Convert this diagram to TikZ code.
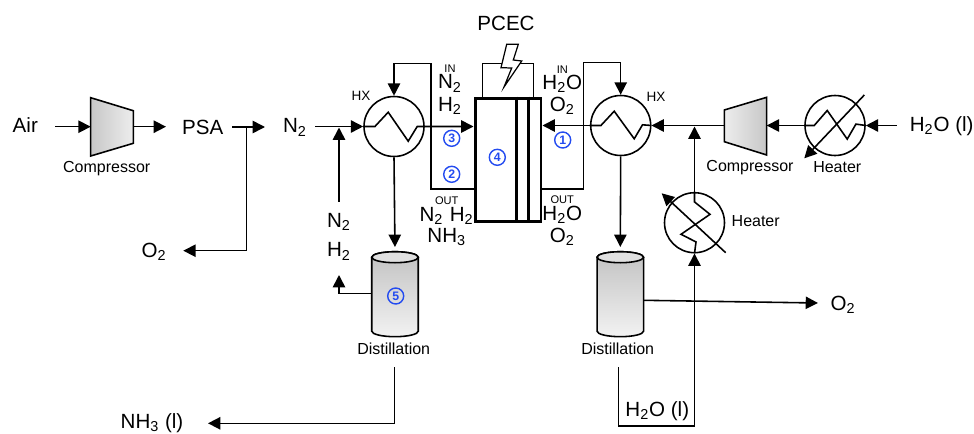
\documentclass[tikz,border=0pt]{standalone}
\usepackage{fontspec}
\setmainfont{Liberation Sans}
\usetikzlibrary{arrows.meta}

\definecolor{tagblue}{RGB}{35,75,240}

\newcommand{\sub}[1]{\textsubscript{#1}}
\newcommand{\tankbody}[1]{%
	\draw[pipe, top color = black!24, bottom color = black!5] ([yshift = -0.11cm]#1.north west) -- ([yshift = 0.11cm]#1.south west) arc (180:360:0.465cm and 0.11cm) -- ([yshift = -0.11cm]#1.north east) arc (0:180:0.465cm and 0.11cm) -- cycle;
	\draw[pipe, fill = black!12] ([yshift = -0.11cm]#1.north) ellipse [x radius = 0.465cm, y radius = 0.11cm];
}

\tikzset{
	flow/.style = {line width = 0.9pt, -{Triangle[length = 7pt, width = 7pt]}},
	pipe/.style = {line width = 0.9pt},
	big/.style = {font = \fontsize{11.7}{14}\selectfont, inner sep = 0pt},
	small/.style = {font = \fontsize{9.1}{11}\selectfont, inner sep = 0pt},
	tiny/.style = {font = \fontsize{6.3}{8}\selectfont, inner sep = 0pt},
	hxname/.style = {font = \fontsize{7.7}{9}\selectfont, inner sep = 0pt},
	hxbox/.style = {draw, circle, line width = 0.9pt, minimum size = 1.2cm, inner sep = 0pt},
	tankbox/.style = {minimum width = 0.93cm, minimum height = 1.7cm, inner sep = 0pt, outer sep = 0pt},
	tagnum/.style = {draw = tagblue, text = tagblue, circle, line width = 0.8pt, minimum size = 0.32cm, inner sep = 0pt, font = \fontsize{7}{8}\selectfont\bfseries}
}

\begin{document}
\begin{tikzpicture}[x = 0.02cm, y = -0.02cm]
	\useasboundingbox (0, 0) rectangle (974, 433);

	%	equipment
	\draw[pipe, left color = black!22, right color = black!7] (90.7, 97.7) -- (133.3, 110.7) -- (133.3, 143.3) -- (90.7, 156) -- cycle;
	\draw[pipe, left color = black!7, right color = black!22] (724.3, 110) -- (766.7, 97.3) -- (766.7, 155) -- (724.3, 141.7) -- cycle;
	\coordinate (compain) at (90.7, 126.7);
	\coordinate (compaout) at (133.3, 126.7);
	\coordinate (compbin) at (766.7, 125.5);
	\coordinate (compbout) at (724.3, 125.5);
	\node[hxbox] (hxa) at (394, 126.5) {};
	\node[hxbox] (hxb) at (620.7, 125.5) {};
	\node[hxbox] (heata) at (835, 125.5) {};
	\node[hxbox] (heatb) at (694.5, 222.7) {};
	\node[tankbox] (dista) at (395, 294.2) {};
	\node[tankbox] (distb) at (620.3, 294.2) {};
	\tankbody{dista}
	\tankbody{distb}
	\node[draw, line width = 1.7pt, minimum width = 1.32cm, minimum height = 2.48cm, inner sep = 0pt] (cell) at (508, 160) {};
	\draw[line width = 1.7pt] ([xshift = 0.86cm]cell.north west) -- ([xshift = 0.86cm]cell.south west);
	\draw[line width = 1.7pt] ([xshift = 1.1cm]cell.north west) -- ([xshift = 1.1cm]cell.south west);

	%	power
	\draw[line width = 0.7pt] ([xshift = 0.18cm]cell.north west) -- ++(0, -33) -- ++(51, 0) -- ++(0, 33);
	\draw[line width = 0.7pt, fill = white] (506.7, 44.3) -- (518.3, 44.3) -- (513.3, 60) -- (521.7, 61) -- (504, 87) -- (511.7, 68) -- (501, 67.7) -- cycle;

	%	labels
	\node[big] (air) at (25.3, 125) {Air};
	\node[big] (psa) at (202.7, 127) {PSA};
	\node[big] (nin) at (295, 127.5) {N\sub{2}};
	\node[big] (oa) at (154, 252) {O\sub{2}};
	\node[big] (recn) at (339, 222) {N\sub{2}};
	\node[big] (rech) at (339, 251.5) {H\sub{2}};
	\node[big] (pcec) at (506, 23.5) {PCEC};
	\node[big] (inan) at (450, 83.5) {N\sub{2}};
	\node[big] (inah) at (450, 106) {H\sub{2}};
	\node[big] (inbw) at (562.3, 84) {H\sub{2}O};
	\node[big] (inbo) at (562.3, 106) {O\sub{2}};
	\node[big] (outa) at (431.5, 216) {N\sub{2}};
	\node[big] (outb) at (461.7, 216) {H\sub{2}};
	\node[big] (outc) at (446.7, 237) {NH\sub{3}};
	\node[big] (outw) at (562.3, 214.5) {H\sub{2}O};
	\node[big] (outo) at (562.3, 236.5) {O\sub{2}};
	\node[big] (wat) at (941.7, 126) {H\sub{2}O (l)};
	\node[big] (watb) at (657.3, 411) {H\sub{2}O (l)};
	\node[big] (amm) at (152, 423) {NH\sub{3} (l)};
	\node[big] (ob) at (843, 305) {O\sub{2}};
	\node[tiny] (tina) at (450, 69) {IN};
	\node[tiny] (tinb) at (562.3, 70) {IN};
	\node[tiny] (touta) at (446.7, 200.7) {OUT};
	\node[tiny] (toutb) at (562.3, 200) {OUT};
	\node[hxname] (hxna) at (361, 96) {HX};
	\node[hxname] (hxnb) at (656, 96.7) {HX};
	\node[small] (compna) at (106.7, 168.3) {Compressor};
	\node[small] (compnb) at (750, 167.3) {Compressor};
	\node[small] (heatna) at (837.3, 166.7) {Heater};
	\node[small] (heatnb) at (755.7, 220.7) {Heater};
	\node[small] (distna) at (393.7, 348.3) {Distillation};
	\node[small] (distnb) at (617.7, 348.3) {Distillation};

	%	numbers
	\node[tagnum] (taga) at (562.7, 140) {1};
	\node[tagnum] (tagb) at (451.7, 174.3) {2};
	\node[tagnum] (tagc) at (451.7, 138.3) {3};
	\node[tagnum] (tagd) at (497.3, 157.3) {4};
	\node[tagnum] (tage) at (395.7, 296) {5};

	%	free ends
	\coordinate (airend) at (55, 126.7);
	\coordinate (psaout) at (232.3, 127);
	\coordinate (psatip) at (265, 127);
	\coordinate (psabr) at (246.7, 127);
	\coordinate (oatip) at (183.3, 250.7);
	\coordinate (ninend) at (315, 126.5);
	\coordinate (recend) at (339, 201.5);
	\coordinate (recjoin) at (339, 127.5);
	\coordinate (comptip) at (166, 126.7);
	\coordinate (loopa) at (431, 63.3);
	\coordinate (loopb) at (583.3, 62.7);
	\coordinate (watend) at (896.7, 125.5);
	\coordinate (recbjoin) at (694.5, 126.5);
	\coordinate (distaend) at (394.3, 367.3);
	\coordinate (distabot) at (394.3, 423.3);
	\coordinate (ammtip) at (208, 423.3);
	\coordinate (distbend) at (618.3, 367.3);
	\coordinate (distbbot) at (694.5, 426);
	\coordinate (rectip) at (339, 275);
	\coordinate (recout) at (371.7, 293.3);
	\coordinate (obstart) at (644, 300.3);
	\coordinate (obtip) at (818, 303);
	\coordinate (hta) at (864.3, 95);
	\coordinate (htb) at (804.3, 158.3);
	\coordinate (htc) at (725.7, 252.7);
	\coordinate (htd) at (661.7, 193.3);

	%	left line
	\draw[flow] (airend) -- (compain);
	\draw[flow] (compaout) -- (comptip);
	\draw[flow] (psaout) -- (psatip);
	\draw[flow] (psabr) |- (oatip);
	\draw[flow] (ninend) -- (hxa.west);
	\draw[flow] (recend) -- (recjoin);
	\draw[flow] (hxa.west) -- ++(11.7, 0) -- ++(13.3, -14.3) -- ++(20, 29) -- ++(9, -14.7) -- (hxa.east) -- (cell.west |- hxa.east);
	\draw[flow] ([yshift = 0.69cm]cell.south west) -| (loopa) -| (hxa.north);
	\draw[flow, shorten >= 2.7pt] (hxa.south) -- (dista.north);
	\draw[flow] (recout) -| (rectip);
	\draw[flow] (distaend) -- (distabot) -- (ammtip);

	%	right line
	\draw[flow] (watend) -- (heata.east);
	\draw[pipe] (heata.west) -- ++(10, 0) -- ++(13, -15) -- ++(20, 28.6) -- ++(8.7, -15) -- (heata.east);
	\draw[flow] (heata.west) -- (compbin);
	\draw[flow] (compbout) -- (hxb.east);
	\draw[flow] (hxb.west) -- (cell.east |- hxb.west);
	\draw[pipe] (hxb.west) -- ++(11, 0) -- ++(13.3, -14.3) -- ++(20, 27.6) -- ++(8.3, -14) -- (hxb.east);
	\draw[flow] ([yshift = 0.69cm]cell.south east) -| (loopb) -| (hxb.north);
	\draw[flow, shorten >= 2.7pt] (hxb.south) -- (distb.north);
	\draw[flow] (heatb.north) -- (recbjoin);
	\draw[pipe] (heatb.north) -- ++(0, 10) -- ++(15.5, 12.4) -- ++(-29, 20) -- ++(15, 7.6) -- (heatb.south);
	\draw[flow] (distbend) |- (distbbot) -- (heatb.south);
	\draw[flow] (obstart) -- (obtip);

	%	heater arrows
	\draw[flow] (hta) -- (htb);
	\draw[flow] (htc) -- (htd);
\end{tikzpicture}
\end{document}
